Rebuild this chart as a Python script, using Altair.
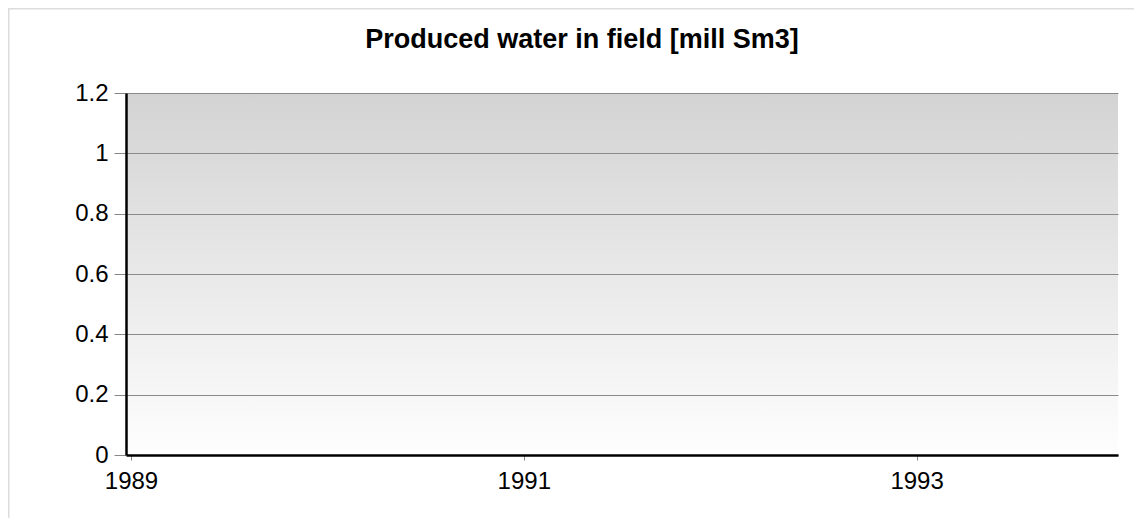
import altair as alt
import pandas as pd

# Data (the reference chart shows no produced water for these years)
years = [1989, 1990, 1991, 1992, 1993]
water = [0, 0, 0, 0, 0]
x_ticks = [1989, 1991, 1993]
y_ticks = [0, 0.2, 0.4, 0.6, 0.8, 1, 1.2]
title_text = "Produced water in field [mill Sm3]"

W, H = 992, 362
PAD_R, PAD_B = 16, 63
FONT = "Liberation Sans"

df = pd.DataFrame({"year": years, "water": water})
one = pd.DataFrame({"t": [title_text]})

frame_top = alt.Chart(one).mark_rule(
    color="#dcdcdc", strokeWidth=3, clip=False
).encode(x=alt.value(-118), x2=alt.value(W + PAD_R), y=alt.value(-85))

frame_left = alt.Chart(one).mark_rule(
    color="#dcdcdc", strokeWidth=3, clip=False
).encode(x=alt.value(-118), y=alt.value(-85), y2=alt.value(H + PAD_B))

bg = alt.Chart(one).mark_rect(
    color=alt.Gradient(
        gradient="linear",
        stops=[alt.GradientStop(color="#d3d3d3", offset=0),
               alt.GradientStop(color="#fefefe", offset=1)],
        x1=0, x2=0, y1=0, y2=1,
    )
).encode(x=alt.value(0), x2=alt.value(W), y=alt.value(0), y2=alt.value(H))

bars = alt.Chart(df).mark_bar(color="#3060a0").encode(
    x=alt.X("year:Q",
            scale=alt.Scale(domain=[1989, 1994], nice=False, zero=False),
            axis=alt.Axis(values=x_ticks, format="d", title=None, grid=False,
                          labelFlush=False, labelFont=FONT, labelFontSize=24,
                          labelColor="#000000", labelPadding=9,
                          tickSize=5, tickColor="#888888", tickWidth=1,
                          domainColor="#000000", domainWidth=2.5, zindex=1)),
    y=alt.Y("water:Q",
            scale=alt.Scale(domain=[0, 1.2], nice=False),
            axis=alt.Axis(values=y_ticks, format="~g", title=None, grid=True,
                          gridColor="#8a8a8a", gridWidth=1,
                          labelFont=FONT, labelFontSize=24, labelColor="#000000",
                          labelPadding=6, tickSize=12, tickColor="#888888",
                          tickWidth=1, domainColor="#000000", domainWidth=2.5,
                          zindex=1)),
)

title = alt.Chart(one).mark_text(
    font=FONT, fontSize=27, fontWeight="bold", color="#000000",
    align="center", baseline="alphabetic", clip=False
).encode(text="t:N", x=alt.value(582 - 126), y=alt.value(48 - 93))

chart = alt.layer(frame_top, frame_left, bg, bars, title).properties(
    width=W, height=H,
    autosize=alt.AutoSizeParams(type="none"),
    padding={"left": 118, "top": 85, "right": PAD_R, "bottom": PAD_B},
    background="#ffffff",
).configure_view(strokeWidth=0)

chart.save("out.html", embed_options={"renderer": "svg", "actions": False})
